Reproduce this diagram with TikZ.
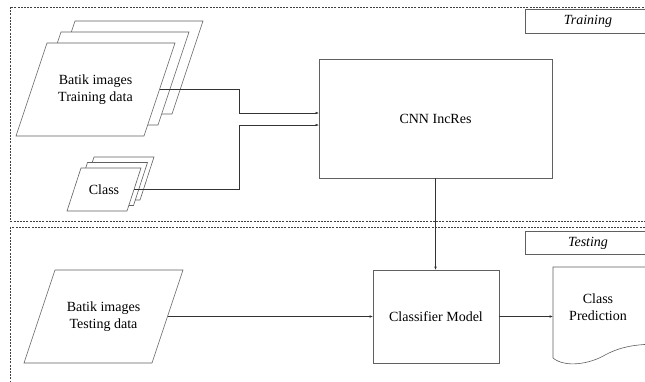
\documentclass[tikz,border=0pt]{standalone}
\usepackage{fontspec}
\setmainfont{Liberation Serif}
\usetikzlibrary{calc,arrows.meta}

\begin{document}
\begin{tikzpicture}[x=1pt, y=-1pt,
    box/.style={draw=gray!75!black, line width=0.6pt, fill=white},
    lbl/.style={font=\fontsize{14}{17}\selectfont, align=center},
    arr/.style={draw=black!80, line width=0.5pt, -{Latex[length=3.5pt,width=2.6pt]}},
    frame/.style={draw=black!75, line width=0.5pt, dash pattern=on 2pt off 1.2pt}]
    \path[use as bounding box, clip] (0,0) rectangle (645,381);
    \draw[frame] (10,7) rectangle (660,221);
    \draw[frame] (10,227) rectangle (660,400);
    \draw[box] (525,9) rectangle (660,33);
    \node[lbl, font=\fontsize{14}{17}\selectfont\itshape] (train) at (588,21) {Training};
    \draw[box] (525,231) rectangle (660,254);
    \node[lbl, font=\fontsize{14}{17}\selectfont\itshape] (test) at (588,243) {Testing};
    % training inputs
    \foreach \k in {2,1}
      \draw[box, shift={(14*\k,-11*\k)}] (16,136) -- ++(128,0) -- ++(31,-93) -- ++(-128,0) -- cycle;
    \draw[box] (16,136) -- ++(128,0) -- ++(31,-93) -- ++(-128,0) -- cycle;
    \node[lbl] (batik) at (95.5,89.5) {Batik images\\Training data};
    \coordinate (batR) at ($(144,136)!0.5!(175,43)$);
    \foreach \k in {2,1}
      \draw[box, shift={(6.5*\k,-5.5*\k)}] (67,211) -- ++(60,0) -- ++(14,-43) -- ++(-60,0) -- cycle;
    \draw[box] (67,211) -- ++(60,0) -- ++(14,-43) -- ++(-60,0) -- cycle;
    \node[lbl] (cls) at (104,189.5) {Class};
    \coordinate (clsR) at ($(127,211)!0.5!(141,168)$);
    \node[box, lbl, minimum width=233, minimum height=119, outer sep=0] (cnn) at (435.5,118.5) {CNN IncRes};
    \draw[arr] (batR) -| (239,113) -- ($(cnn.west)+(0,-5.5)$);
    \draw[arr] (clsR) -| (239,125) -- ($(cnn.west)+(0,6.5)$);
    % testing
    \draw[box] (24,363) -- ++(128,0) -- ++(31,-93) -- ++(-128,0) -- cycle;
    \node[lbl] (batikt) at (103.5,316.5) {Batik images\\Testing data};
    \coordinate (tstR) at ($(152,363)!0.5!(183,270)$);
    \node[box, lbl, minimum width=126, minimum height=93, outer sep=0] (clf) at (436,316.5) {Classifier Model};
    \draw[box] (553,267) -- (660,267) -- (660,344)
      .. controls (635,344) and (620,347) .. (605,355)
      .. controls (590,364) and (565,368) .. (553,358) -- cycle;
    \node[lbl] (pred) at (598,307) {Class\\Prediction};
    \coordinate (predL) at (553,316.5);
    \draw[arr] (cnn.south) -- (cnn.south |- clf.north);
    \draw[arr] (tstR) -- (tstR -| clf.west);
    \draw[arr] (clf.east) -- (predL);
  \end{tikzpicture}
\end{document}
